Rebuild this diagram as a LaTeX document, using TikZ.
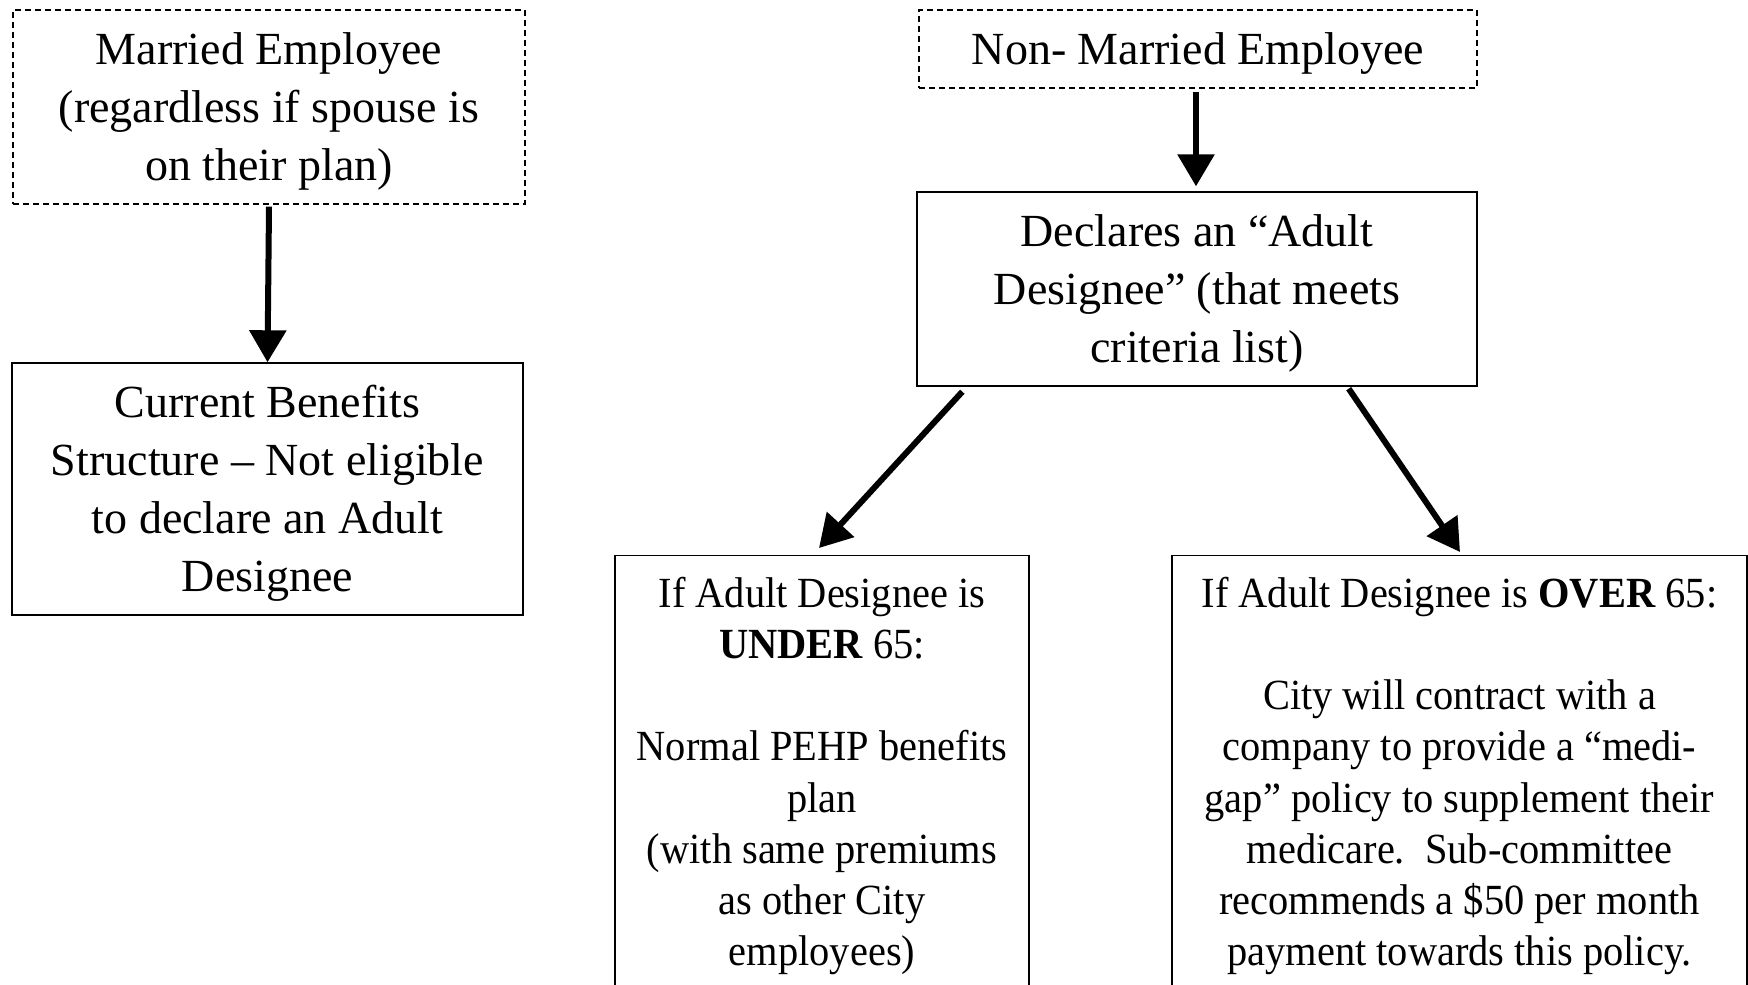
\documentclass[tikz,border=0pt]{standalone}
\usepackage{fontspec}
\setmainfont{Liberation Serif}
\newfontfamily\narrowfont{Liberation Serif}[FakeStretch=0.94]
\usetikzlibrary{arrows.meta,calc}
\newcommand\topup{\rule{0pt}{20pt}}
\begin{document}
\begin{tikzpicture}[x=0.5pt,y=-0.5pt,
  box/.style={draw, line width=0.7pt, align=center, inner sep=0pt},
  dbox/.style={box, dash pattern=on 3pt off 2pt},
  arr/.style={line width=3pt, -{Triangle[length=16pt,width=18pt]}},
  upper/.style={font=\fontsize{23}{29}\selectfont},
  lower/.style={font=\narrowfont\fontsize{21.5}{25.6}\selectfont}]
\useasboundingbox (0,0) rectangle (1748,984);
\clip (0,0) rectangle (1748,984);
\node[dbox, upper, minimum width=256pt, minimum height=97pt] (married) at (269,107)
  {\topup Married Employee\\(regardless if spouse is\\on their plan)};
\node[box, upper, minimum width=255.5pt, minimum height=126pt] (current) at (267.5,489)
  {\topup Current Benefits\\Structure -- Not eligible\\to declare an Adult\\Designee};
\node[dbox, upper, minimum width=279pt, minimum height=39pt] (nonmarried) at (1198,49)
  {\topup Non- Married Employee};
\node[box, upper, minimum width=280pt, minimum height=97pt] (declares) at (1197,289)
  {\topup Declares an “Adult\\Designee” (that meets\\criteria list)};
\node[box, lower, anchor=north, minimum width=207pt, inner ysep=10.7pt] (under) at (822,555)
  {If Adult Designee is\\\textbf{UNDER} 65:\\\mbox{}\\Normal PEHP benefits\\plan\\(with same premiums\\as other City\\employees)};
\node[box, lower, anchor=north, minimum width=287.5pt, inner ysep=10.7pt] (over) at (1459.5,555)
  {If Adult Designee is \textbf{OVER} 65:\\\mbox{}\\City will contract with a\\company to provide a “medi-\\gap” policy to supplement their\\medicare.\ \ Sub-committee\\recommends a \$50 per month\\payment towards this policy.};
\draw[arr] ($(married.south)+(0,2)$) -- (current.north);
\draw[arr] ($(nonmarried.south)+(-2,3)$) -- ($(declares.north)+(-1,-5)$);
\draw[arr] ($(declares.south west)+(46,5)$) -- ($(under.north)+(-3,-7)$);
\draw[arr] ($(declares.south east)+(-129,2)$) -- ($(over.north)+(0.5,-3)$);
\end{tikzpicture}
\end{document}
